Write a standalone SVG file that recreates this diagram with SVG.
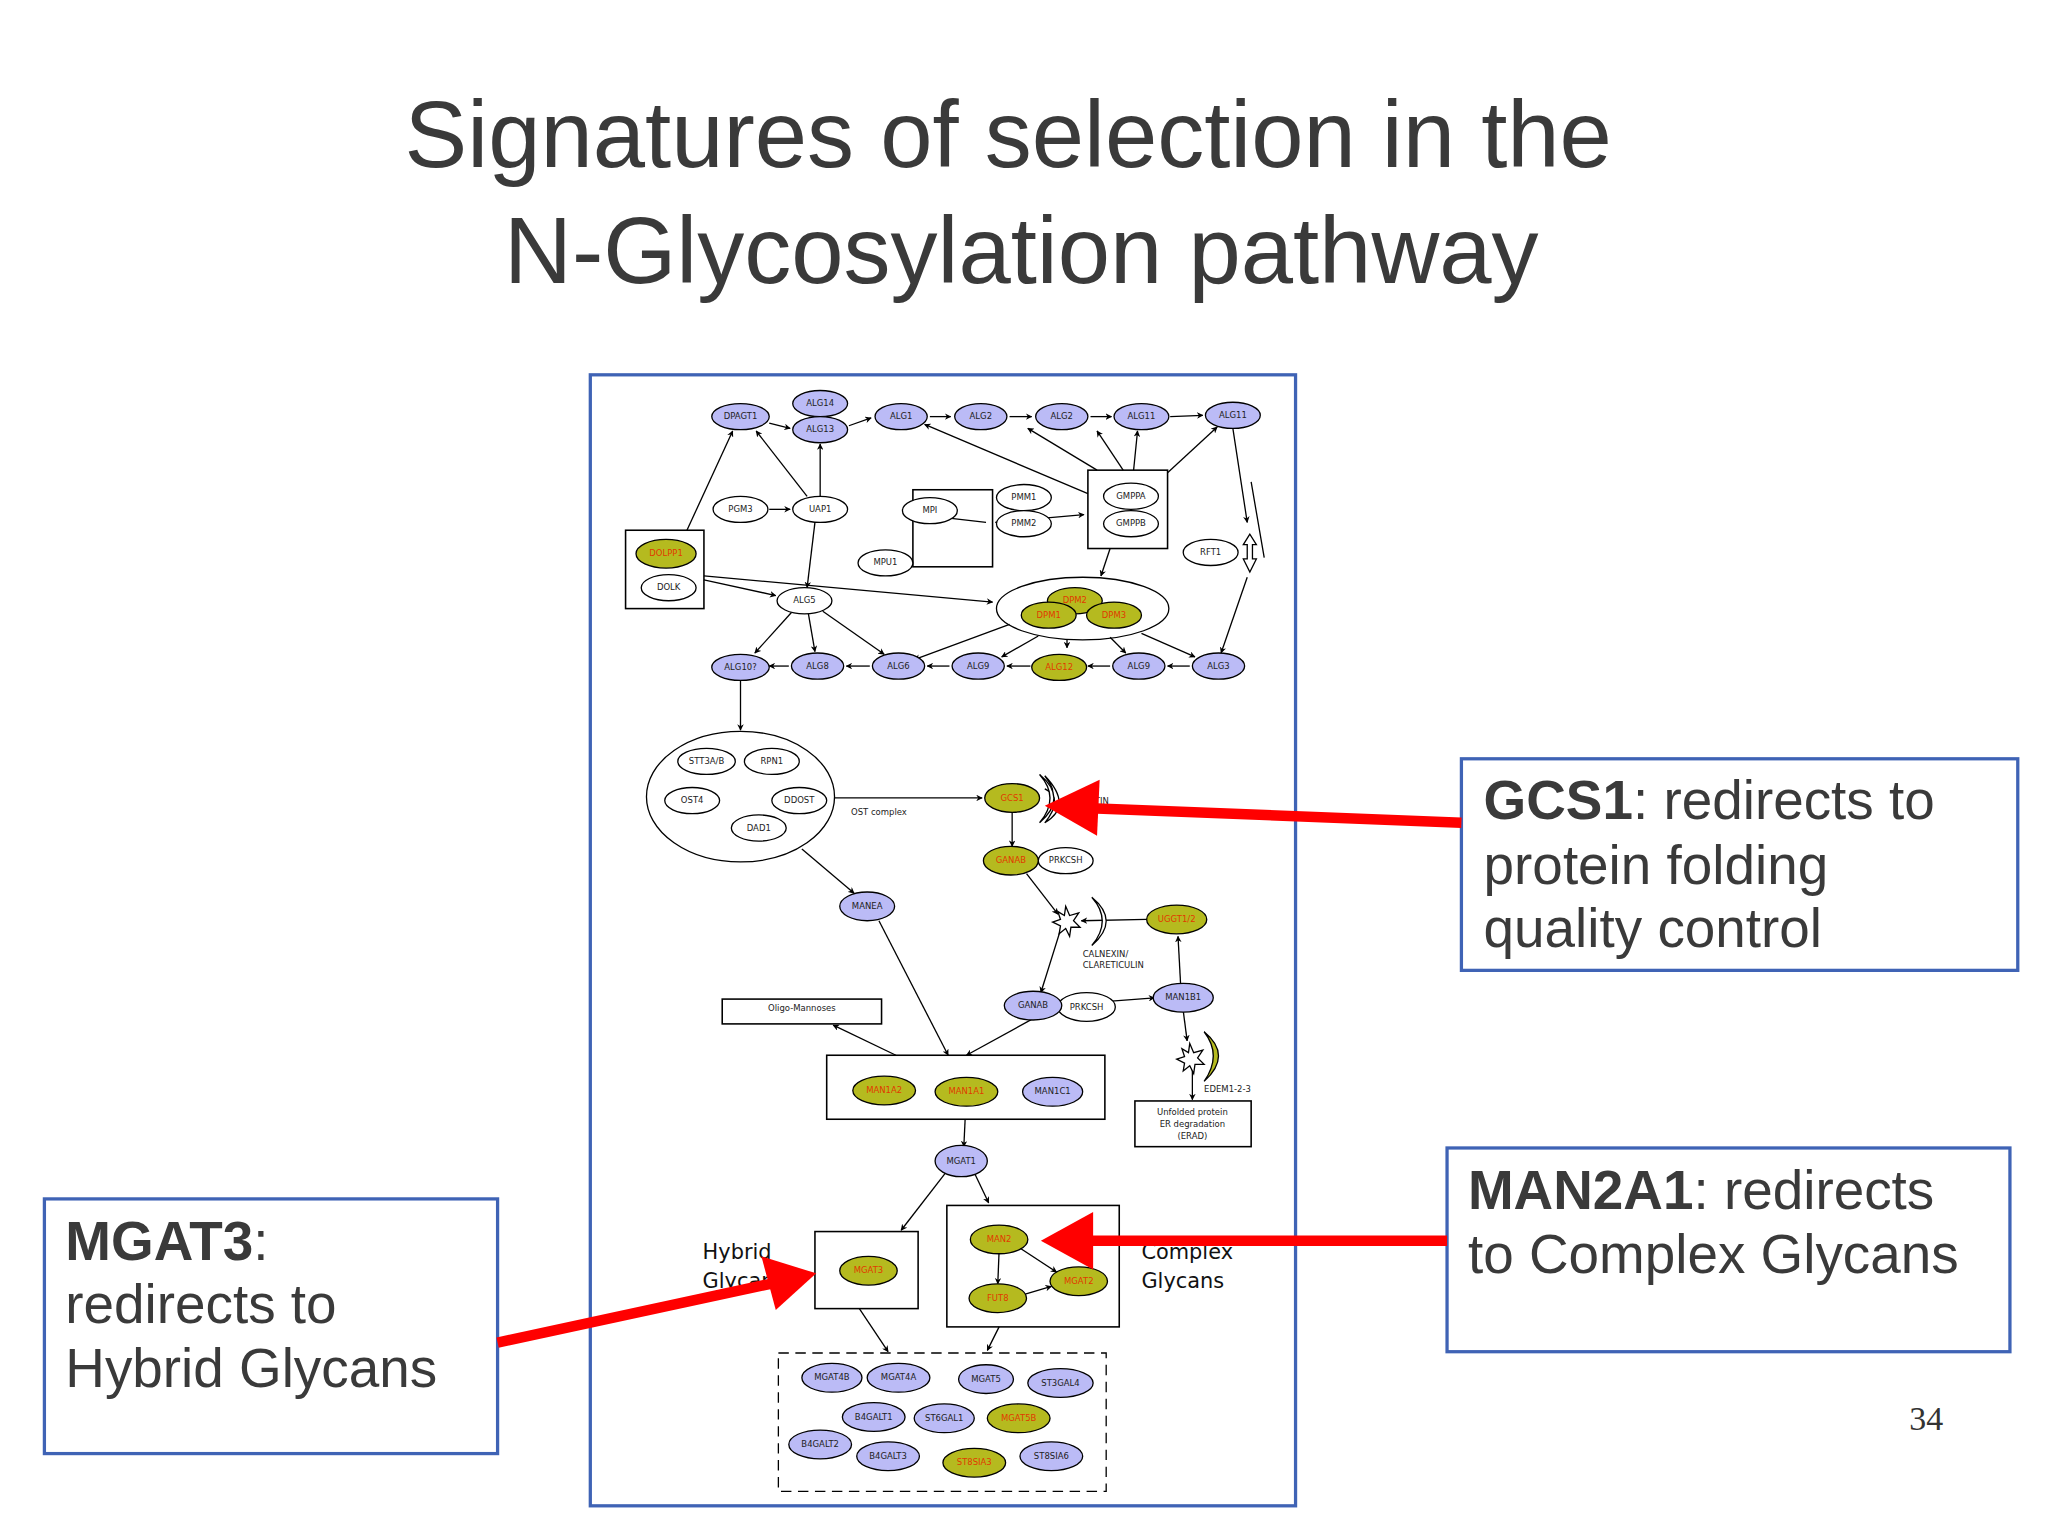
<svg xmlns="http://www.w3.org/2000/svg" width="2048" height="1535" viewBox="0 0 2048 1535">
<defs>
<marker id="ah" viewBox="0 0 10 10" refX="9" refY="5" markerWidth="5" markerHeight="5" orient="auto-start-reverse" markerUnits="userSpaceOnUse"><path d="M0,0 L10,5 L0,10 L3,5 z" fill="#000"/></marker>
<marker id="rh" viewBox="0 0 10 10" refX="9" refY="5" markerWidth="9" markerHeight="9" orient="auto" markerUnits="strokeWidth"><path d="M0,0 L10,5 L0,10 z" fill="#f00"/></marker>
</defs>
<style>
.b{fill:#bbbbf6;stroke:#000;stroke-width:1}
.o{fill:#b5ba1f;stroke:#000;stroke-width:1}
.w{fill:#fff;stroke:#000;stroke-width:1}
.box{fill:none;stroke:#000;stroke-width:1.2}
.t{font-family:"DejaVu Sans",sans-serif;font-size:6.5px;text-anchor:middle;fill:#222}
.r{fill:#e03a00}
.e{stroke:#000;stroke-width:1;fill:none;marker-end:url(#ah)}
.title{font-family:"Liberation Sans",Arial,sans-serif;font-size:72px;fill:#3a3a3a;text-anchor:middle}
.cl{font-family:"Liberation Sans",Arial,sans-serif;font-size:42px;fill:#3a3a3a}
.lab{font-family:"DejaVu Sans",sans-serif;font-size:16px;fill:#111}
.call{fill:#fff;stroke:#3f63b5;stroke-width:2.5}
.ra{stroke:#f00;stroke-width:8;fill:none;marker-end:url(#rh)}
</style>
<rect width="2048" height="1535" fill="#fff"/>
<g transform="scale(1.306)">
<g id="title"><text class="title" x="772" y="128">Signatures of selection in the</text><text class="title" x="782" y="217">N-Glycosylation pathway</text></g>
<rect id="frame" x="452" y="287" width="540" height="866" fill="#fff" stroke="#3f63b5" stroke-width="2.5"/>
<g id="boxes">
<rect class="box" x="479" y="406" width="60" height="60"/>
<rect class="box" x="699" y="375" width="61" height="59"/>
<rect class="box" x="833" y="360" width="61" height="60"/>
<rect class="box" x="553" y="765" width="122" height="19"/>
<text class="t" x="614" y="774">Oligo-Mannoses</text>
<rect class="box" x="633" y="808" width="213" height="49"/>
<rect class="box" x="869" y="843" width="89" height="35"/>
<text class="t" x="913" y="854">Unfolded protein</text><text class="t" x="913" y="863">ER degradation</text><text class="t" x="913" y="872">(ERAD)</text>
<rect class="box" x="624" y="943" width="79" height="59"/>
<rect class="box" x="725" y="923" width="132" height="93"/>
<rect x="596" y="1036" width="251" height="106" fill="none" stroke="#000" stroke-width="1" stroke-dasharray="8,5"/>
<ellipse class="w" cx="567" cy="610" rx="72" ry="50"/>
<ellipse class="w" cx="829" cy="466" rx="66" ry="24"/>
<text class="t" x="673" y="624" text-anchor="start">OST complex</text>
<text class="t" x="829" y="733" style="text-anchor:start">CALNEXIN/</text><text class="t" x="829" y="741" style="text-anchor:start">CLARETICULIN</text>
<text class="t" x="922" y="836" style="text-anchor:start">EDEM1-2-3</text>
<text class="t" x="826" y="616" style="text-anchor:start">LECTIN</text>
<text class="lab" x="538" y="964">Hybrid</text><text class="lab" x="538" y="986">Glycans</text>
<text class="lab" x="874" y="964">Complex</text><text class="lab" x="874" y="986">Glycans</text>
</g>
<g id="connectors">
<path class="e" d="M589,324 L605,328"/>
<path class="e" d="M650,326 L667,320"/>
<path class="e" d="M712,319 L728,319"/>
<path class="e" d="M773,319 L790,319"/>
<path class="e" d="M835,319 L851,319"/>
<path class="e" d="M896,319 L921,318"/>
<path class="e" d="M526,406 L561,330"/>
<path class="e" d="M618,380 L579,330"/>
<path class="e" d="M628,380 L628,340"/>
<path class="e" d="M589,390 L605,390"/>
<path class="e" d="M755,400 L720,396" />
<path class="e" d="M624,400 L618,450"/>
<path class="e" d="M539,441 L760,461"/>
<path class="e" d="M539,444 L594,456"/>
<path class="e" d="M833,378 L708,325"/>
<path class="e" d="M840,360 L787,328"/>
<path class="e" d="M860,360 L840,330"/>
<path class="e" d="M868,360 L871,330"/>
<path class="e" d="M894,362 L932,327"/>
<path class="e" d="M762,400 L830,394"/>
<path class="e" d="M968,427 L958,369 M944,328 L955,400" style="marker-end:url(#ah)"/>
<path class="e" d="M955,442 L935,500"/>
<path class="e" d="M850,420 L843,441"/>
<path class="e" d="M606,469 L578,500"/>
<path class="e" d="M619,470 L624,499"/>
<path class="e" d="M630,468 L677,501"/>
<path class="e" d="M773,478 L700,505"/>
<path class="e" d="M795,487 L767,503"/>
<path class="e" d="M817,490 L817,496"/>
<path class="e" d="M850,488 L862,500"/>
<path class="e" d="M874,485 L915,503"/>
<path class="e" d="M911,510 L894,510"/>
<path class="e" d="M850,510 L833,510"/>
<path class="e" d="M789,510 L771,510"/>
<path class="e" d="M727,510 L710,510"/>
<path class="e" d="M666,510 L648,510"/>
<path class="e" d="M604,510 L589,510"/>
<path class="e" d="M567,520 L567,559"/>
<path class="e" d="M639,611 L752,611"/>
<path class="e" d="M775,622 L775,648"/>
<path class="e" d="M614,650 L654,684"/>
<path class="e" d="M786,669 L810,700"/>
<path class="e" d="M878,704 L828,705"/>
<path class="e" d="M812,712 L797,760"/>
<path class="e" d="M904,754 L902,717"/>
<path class="e" d="M818,769 L884,764"/>
<path class="e" d="M906,774 L909,797"/>
<path class="e" d="M913,818 L913,842"/>
<path class="e" d="M673,705 L726,808"/>
<path class="e" d="M791,780 L740,808"/>
<path class="e" d="M686,808 L638,785"/>
<path class="e" d="M739,857 L738,878"/>
<path class="e" d="M724,898 L690,942"/>
<path class="e" d="M746,898 L757,921"/>
<path class="e" d="M765,958 L764,983"/>
<path class="e" d="M780,955 L809,974"/>
<path class="e" d="M785,991 L805,985"/>
<path class="e" d="M658,1002 L680,1035"/>
<path class="e" d="M765,1016 L756,1034"/>
</g>
<g id="symbols" fill="#fff" stroke="#000" stroke-width="1">
<path d="M800,604 Q815,611 800,630 Q822,617 800,594 Q812,611 800,604 z"/>
<path d="M796,593 Q818,611 796,630 Q812,611 796,593 z"/>
<path d="M836,687 Q852,705 836,724 Q858,705 836,687 z"/>
<path d="M922,790 Q944,808 922,828 Q936,808 922,790 z" fill="#b5ba1f"/>
<path d="M816,694 l3,7 7,-2 -4,6 5,5 -7,0 -1,7 -3,-6 -5,4 1,-6 -6,-3 6,-2 -2,-6 5,3 z"/>
<path d="M911,799 l3,7 7,-2 -4,6 5,5 -7,0 -1,7 -3,-6 -5,4 1,-6 -6,-3 6,-2 -2,-6 5,3 z"/>
<path d="M957,409 l-5,8 3,0 0,11 -3,0 5,10 5,-10 -3,0 0,-11 3,0 z"/>
</g>
<g id="n-top">
<g id="DPAGT1"><ellipse class="b" cx="567" cy="319" rx="22" ry="10"/><text class="t" x="567" y="321">DPAGT1</text></g>
<g id="ALG14"><ellipse class="b" cx="628" cy="309" rx="21" ry="10"/><text class="t" x="628" y="311">ALG14</text></g>
<g id="ALG13"><ellipse class="b" cx="628" cy="329" rx="21" ry="10"/><text class="t" x="628" y="331">ALG13</text></g>
<g id="ALG1"><ellipse class="b" cx="690" cy="319" rx="20" ry="10"/><text class="t" x="690" y="321">ALG1</text></g>
<g id="ALG2a"><ellipse class="b" cx="751" cy="319" rx="20" ry="10"/><text class="t" x="751" y="321">ALG2</text></g>
<g id="ALG2b"><ellipse class="b" cx="813" cy="319" rx="20" ry="10"/><text class="t" x="813" y="321">ALG2</text></g>
<g id="ALG11a"><ellipse class="b" cx="874" cy="319" rx="21" ry="10"/><text class="t" x="874" y="321">ALG11</text></g>
<g id="ALG11b"><ellipse class="b" cx="944" cy="318" rx="21" ry="10"/><text class="t" x="944" y="320">ALG11</text></g>
<g id="PGM3"><ellipse class="w" cx="567" cy="390" rx="21" ry="10"/><text class="t" x="567" y="392">PGM3</text></g>
<g id="UAP1"><ellipse class="w" cx="628" cy="390" rx="21" ry="10"/><text class="t" x="628" y="392">UAP1</text></g>
<g id="DOLPP1"><ellipse class="o" cx="510" cy="424" rx="23" ry="11"/><text class="t r" x="510" y="426">DOLPP1</text></g>
<g id="DOLK"><ellipse class="w" cx="512" cy="450" rx="21" ry="10"/><text class="t" x="512" y="452">DOLK</text></g>
<g id="MPI"><ellipse class="w" cx="712" cy="391" rx="21" ry="10"/><text class="t" x="712" y="393">MPI</text></g>
<g id="MPU1"><ellipse class="w" cx="678" cy="431" rx="21" ry="10"/><text class="t" x="678" y="433">MPU1</text></g>
<g id="PMM1"><ellipse class="w" cx="784" cy="381" rx="21" ry="10"/><text class="t" x="784" y="383">PMM1</text></g>
<g id="PMM2"><ellipse class="w" cx="784" cy="401" rx="21" ry="10"/><text class="t" x="784" y="403">PMM2</text></g>
<g id="GMPPA"><ellipse class="w" cx="866" cy="380" rx="21" ry="10"/><text class="t" x="866" y="382">GMPPA</text></g>
<g id="GMPPB"><ellipse class="w" cx="866" cy="401" rx="21" ry="10"/><text class="t" x="866" y="403">GMPPB</text></g>
<g id="RFT1"><ellipse class="w" cx="927" cy="423" rx="21" ry="10"/><text class="t" x="927" y="425">RFT1</text></g>
<g id="ALG5"><ellipse class="w" cx="616" cy="460" rx="21" ry="10"/><text class="t" x="616" y="462">ALG5</text></g>
<g id="DPM2"><ellipse class="o" cx="823" cy="460" rx="21" ry="10"/><text class="t r" x="823" y="462">DPM2</text></g>
<g id="DPM1"><ellipse class="o" cx="803" cy="471" rx="21" ry="10"/><text class="t r" x="803" y="473">DPM1</text></g>
<g id="DPM3"><ellipse class="o" cx="853" cy="471" rx="21" ry="10"/><text class="t r" x="853" y="473">DPM3</text></g>
<g id="ALG10"><ellipse class="b" cx="567" cy="511" rx="22" ry="10"/><text class="t" x="567" y="513">ALG10?</text></g>
<g id="ALG8"><ellipse class="b" cx="626" cy="510" rx="20" ry="10"/><text class="t" x="626" y="512">ALG8</text></g>
<g id="ALG6"><ellipse class="b" cx="688" cy="510" rx="20" ry="10"/><text class="t" x="688" y="512">ALG6</text></g>
<g id="ALG9a"><ellipse class="b" cx="749" cy="510" rx="20" ry="10"/><text class="t" x="749" y="512">ALG9</text></g>
<g id="ALG12"><ellipse class="o" cx="811" cy="511" rx="21" ry="10"/><text class="t r" x="811" y="513">ALG12</text></g>
<g id="ALG9b"><ellipse class="b" cx="872" cy="510" rx="20" ry="10"/><text class="t" x="872" y="512">ALG9</text></g>
<g id="ALG3"><ellipse class="b" cx="933" cy="510" rx="20" ry="10"/><text class="t" x="933" y="512">ALG3</text></g>
</g>
<g id="n-mid">
<g id="STT3A"><ellipse class="w" cx="541" cy="583" rx="22" ry="10"/><text class="t" x="541" y="585">STT3A/B</text></g>
<g id="RPN1"><ellipse class="w" cx="591" cy="583" rx="21" ry="10"/><text class="t" x="591" y="585">RPN1</text></g>
<g id="OST4"><ellipse class="w" cx="530" cy="613" rx="21" ry="10"/><text class="t" x="530" y="615">OST4</text></g>
<g id="DDOST"><ellipse class="w" cx="612" cy="613" rx="21" ry="10"/><text class="t" x="612" y="615">DDOST</text></g>
<g id="DAD1"><ellipse class="w" cx="581" cy="634" rx="21" ry="10"/><text class="t" x="581" y="636">DAD1</text></g>
<g id="GCS1"><ellipse class="o" cx="775" cy="611" rx="21" ry="11"/><text class="t r" x="775" y="613">GCS1</text></g>
<g id="PRKCSH1"><ellipse class="w" cx="816" cy="659" rx="21" ry="10"/><text class="t" x="816" y="661">PRKCSH</text></g>
<g id="GANAB1"><ellipse class="o" cx="774" cy="659" rx="21" ry="11"/><text class="t r" x="774" y="661">GANAB</text></g>
<g id="UGGT"><ellipse class="o" cx="901" cy="704" rx="23" ry="11"/><text class="t r" x="901" y="706">UGGT1/2</text></g>
<g id="MANEA"><ellipse class="b" cx="664" cy="694" rx="21" ry="11"/><text class="t" x="664" y="696">MANEA</text></g>
<g id="PRKCSH2"><ellipse class="w" cx="832" cy="771" rx="22" ry="11"/><text class="t" x="832" y="773">PRKCSH</text></g>
<g id="GANAB2"><ellipse class="b" cx="791" cy="770" rx="22" ry="11"/><text class="t" x="791" y="772">GANAB</text></g>
<g id="MAN1B1"><ellipse class="b" cx="906" cy="764" rx="23" ry="11"/><text class="t" x="906" y="766">MAN1B1</text></g>
<g id="MAN1A2"><ellipse class="o" cx="677" cy="835" rx="24" ry="11"/><text class="t r" x="677" y="837">MAN1A2</text></g>
<g id="MAN1A1"><ellipse class="o" cx="740" cy="836" rx="24" ry="11"/><text class="t r" x="740" y="838">MAN1A1</text></g>
<g id="MAN1C1"><ellipse class="b" cx="806" cy="836" rx="23" ry="11"/><text class="t" x="806" y="838">MAN1C1</text></g>
<g id="MGAT1"><ellipse class="b" cx="736" cy="889" rx="20" ry="12"/><text class="t" x="736" y="891">MGAT1</text></g>
<g id="MGAT3"><ellipse class="o" cx="665" cy="973" rx="22" ry="11"/><text class="t r" x="665" y="975">MGAT3</text></g>
<g id="MAN2"><ellipse class="o" cx="765" cy="949" rx="22" ry="11"/><text class="t r" x="765" y="951">MAN2</text></g>
<g id="MGAT2"><ellipse class="o" cx="826" cy="981" rx="22" ry="11"/><text class="t r" x="826" y="983">MGAT2</text></g>
<g id="FUT8"><ellipse class="o" cx="764" cy="994" rx="22" ry="11"/><text class="t r" x="764" y="996">FUT8</text></g>
</g>
<g id="n-bot">
<g id="MGAT4B"><ellipse class="b" cx="637" cy="1055" rx="23" ry="11"/><text class="t" x="637" y="1057">MGAT4B</text></g>
<g id="MGAT4A"><ellipse class="b" cx="688" cy="1055" rx="24" ry="11"/><text class="t" x="688" y="1057">MGAT4A</text></g>
<g id="MGAT5"><ellipse class="b" cx="755" cy="1056" rx="21" ry="11"/><text class="t" x="755" y="1058">MGAT5</text></g>
<g id="ST3GAL4"><ellipse class="b" cx="812" cy="1059" rx="25" ry="11"/><text class="t" x="812" y="1061">ST3GAL4</text></g>
<g id="B4GALT1"><ellipse class="b" cx="669" cy="1085" rx="24" ry="11"/><text class="t" x="669" y="1087">B4GALT1</text></g>
<g id="ST6GAL1"><ellipse class="b" cx="723" cy="1086" rx="23" ry="11"/><text class="t" x="723" y="1088">ST6GAL1</text></g>
<g id="MGAT5B"><ellipse class="o" cx="780" cy="1086" rx="24" ry="11"/><text class="t r" x="780" y="1088">MGAT5B</text></g>
<g id="B4GALT2"><ellipse class="b" cx="628" cy="1106" rx="24" ry="11"/><text class="t" x="628" y="1108">B4GALT2</text></g>
<g id="B4GALT3"><ellipse class="b" cx="680" cy="1115" rx="24" ry="11"/><text class="t" x="680" y="1117">B4GALT3</text></g>
<g id="ST8SIA3"><ellipse class="o" cx="746" cy="1120" rx="24" ry="11"/><text class="t r" x="746" y="1122">ST8SIA3</text></g>
<g id="ST8SIA6"><ellipse class="b" cx="805" cy="1115" rx="24" ry="11"/><text class="t" x="805" y="1117">ST8SIA6</text></g>
</g>
<g id="callouts">
<rect class="call" x="1119" y="581" width="426" height="162"/>
<text class="cl" x="1136" y="627"><tspan font-weight="bold">GCS1</tspan>: redirects to</text>
<text class="cl" x="1136" y="677">protein folding</text>
<text class="cl" x="1136" y="725">quality control</text>
<rect class="call" x="1108" y="879" width="431" height="156"/>
<text class="cl" x="1124" y="926"><tspan font-weight="bold">MAN2A1</tspan>: redirects</text>
<text class="cl" x="1124" y="975">to Complex Glycans</text>
<rect class="call" x="34" y="918" width="347" height="195"/>
<text class="cl" x="50" y="965"><tspan font-weight="bold">MGAT3</tspan>:</text>
<text class="cl" x="50" y="1013">redirects to</text>
<text class="cl" x="50" y="1062">Hybrid Glycans</text>
</g>
<g id="red-arrows">
<path d="M1119,630 L840,619" stroke="#f00" stroke-width="8"/><path d="M800,617 L842,597 L840,640 z" fill="#f00"/>
<path d="M1108,950 L835,950" stroke="#f00" stroke-width="8"/><path d="M797,950 L837,928 L837,972 z" fill="#f00"/>
<path d="M381,1028 L590,983" stroke="#f00" stroke-width="8"/><path d="M625,975 L583,962 L594,1003 z" fill="#f00"/>
</g>
<text x="1475" y="1095" font-family="Liberation Serif,serif" font-size="26" fill="#333" text-anchor="middle">34</text>
</g>
</svg>
